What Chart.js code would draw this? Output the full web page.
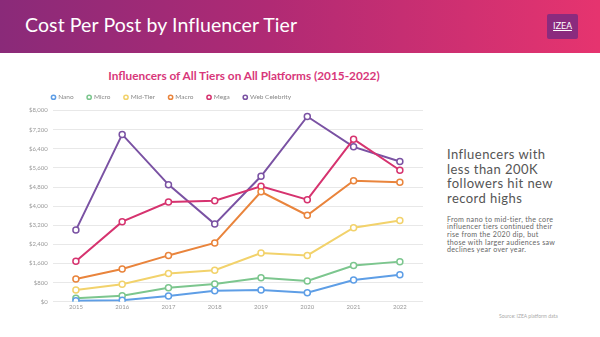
<!DOCTYPE html>
<html>
<head>
<meta charset="utf-8">
<script src="https://cdn.jsdelivr.net/npm/chart.js@4/dist/chart.umd.min.js"></script>
<style>
  html, body { margin: 0; padding: 0; background: #fff; }
  body { width: 600px; height: 337px; position: relative; overflow: hidden; font-family: Lato, "Open Sans", sans-serif; }
  .header { position: absolute; left: 0; top: 0; width: 600px; height: 53px;
    background: linear-gradient(90deg, #8a2a79 0%, #b02a74 45%, #e6346f 100%); }
  .header h1 { position: absolute; left: 25px; top: 13px; margin: 0; font-weight: 400; font-size: 19.5px;
    color: #fff; letter-spacing: 0.1px; white-space: nowrap; }
  .logo { position: absolute; left: 547px; top: 14px; width: 31px; height: 25px; background: #8b2b7e;
    border-radius: 2px; }
  .logo span { position: absolute; left: 0; right: 0; top: 6px; text-align: center; color: #fff;
    font-family: "DejaVu Sans Condensed", "Liberation Sans Narrow", sans-serif; font-size: 9.5px; font-weight: 400;
    letter-spacing: -0.2px; text-decoration: underline; }
  .subtitle { position: absolute; left: 44px; width: 400px; top: 68px; text-align: center; font-weight: 700;
    font-size: 11.8px; color: #d8377a; white-space: nowrap; }
  #wrap { position: absolute; left: 0; top: 54px; width: 432px; height: 260px; }
  .callout { position: absolute; left: 447px; top: 147px; font-size: 13px; line-height: 14.7px; color: #555;
    font-weight: 400; letter-spacing: 0.45px; }
  .note { position: absolute; left: 447px; top: 215.5px; font-size: 7.1px; line-height: 7.7px; color: #666;
    letter-spacing: 0.3px; }
  .source { position: absolute; left: 499px; top: 312.5px; font-size: 5px; color: #aaa; }
</style>
</head>
<body>
<div class="header">
  <h1>Cost Per Post by Influencer Tier</h1>
  <div class="logo"><span>IZEA</span></div>
</div>
<div class="subtitle">Influencers of All Tiers on All Platforms (2015-2022)</div>
<div id="wrap"><canvas id="chart"></canvas></div>
<div class="callout">Influencers with<br>less than 200K<br>followers hit new<br>record highs</div>
<div class="note">From nano to mid-tier, the core<br>influencer tiers continued their<br>rise from the 2020 dip, but<br>those with larger audiences saw<br>declines year over year.</div>
<div class="source">Source: IZEA platform data</div>

<script>
// Years on the x axis
const years = ['2015', '2016', '2017', '2018', '2019', '2020', '2021', '2022'];

// Average cost per post (USD) for each influencer tier
const nano          = [40, 70, 240, 460, 490, 380, 910, 1130];
const micro         = [150, 250, 590, 740, 1010, 870, 1520, 1680];
const midTier       = [490, 730, 1180, 1320, 2040, 1940, 3100, 3400];
const macro         = [950, 1370, 1940, 2460, 4600, 3620, 5060, 5000];
const mega          = [1700, 3350, 4170, 4230, 4830, 4270, 6800, 5500];
const webCelebrity  = [3000, 7000, 4900, 3250, 5250, 7750, 6480, 5870];

// Y axis range and tick spacing
const yMin = 0;
const yMax = 8000;
const yStep = 800;

const tierColors = {
  Nano: '#5e9ee6',
  Micro: '#7cc68e',
  'Mid-Tier': '#f2d26b',
  Macro: '#e9843c',
  Mega: '#d6336f',
  'Web Celebrity': '#7a52a3'
};

function series(label, data) {
  const c = tierColors[label];
  return {
    label: label,
    data: data,
    borderColor: c,
    backgroundColor: c,
    borderWidth: 2,
    pointRadius: 3,
    pointBorderWidth: 1.5,
    pointBackgroundColor: '#fff',
    pointBorderColor: c,
    tension: 0
  };
}

// Nudge the legend row to the right so it lines up with the plot area
const legendOffset = {
  id: 'legendOffset',
  afterLayout(chart) {
    if (chart.legend) chart.legend.left += 14;
  }
};

new Chart(document.getElementById('chart'), {
  type: 'line',
  data: {
    labels: years,
    datasets: [
      series('Nano', nano),
      series('Micro', micro),
      series('Mid-Tier', midTier),
      series('Macro', macro),
      series('Mega', mega),
      series('Web Celebrity', webCelebrity)
    ]
  },
  plugins: [legendOffset],
  options: {
    responsive: true,
    maintainAspectRatio: false,
    animation: false,
    layout: { padding: { top: 26, left: 24, right: 9, bottom: 2 } },
    plugins: {
      title: { display: false },
      tooltip: { enabled: false },
      legend: {
        position: 'top',
        align: 'start',
        labels: {
          usePointStyle: true,
          pointStyle: 'circle',
          boxWidth: 3,
          boxHeight: 3,
          padding: 14,
          color: '#888',
          font: { family: 'Lato', size: 6.5 }
        }
      }
    },
    scales: {
      x: {
        offset: true,
        grid: { display: false, drawTicks: false },
        border: { display: false },
        ticks: { color: '#999', font: { family: 'Lato', size: 6 }, padding: 1.5 }
      },
      y: {
        min: yMin,
        max: yMax,
        border: { display: false },
        grid: { color: '#e8e8e8', drawTicks: false, lineWidth: 1 },
        ticks: {
          stepSize: yStep,
          padding: 5,
          color: '#999',
          font: { family: 'Lato', size: 6 },
          callback: v => '$' + v.toLocaleString('en-US')
        }
      }
    }
  }
});
</script>
</body>
</html>
